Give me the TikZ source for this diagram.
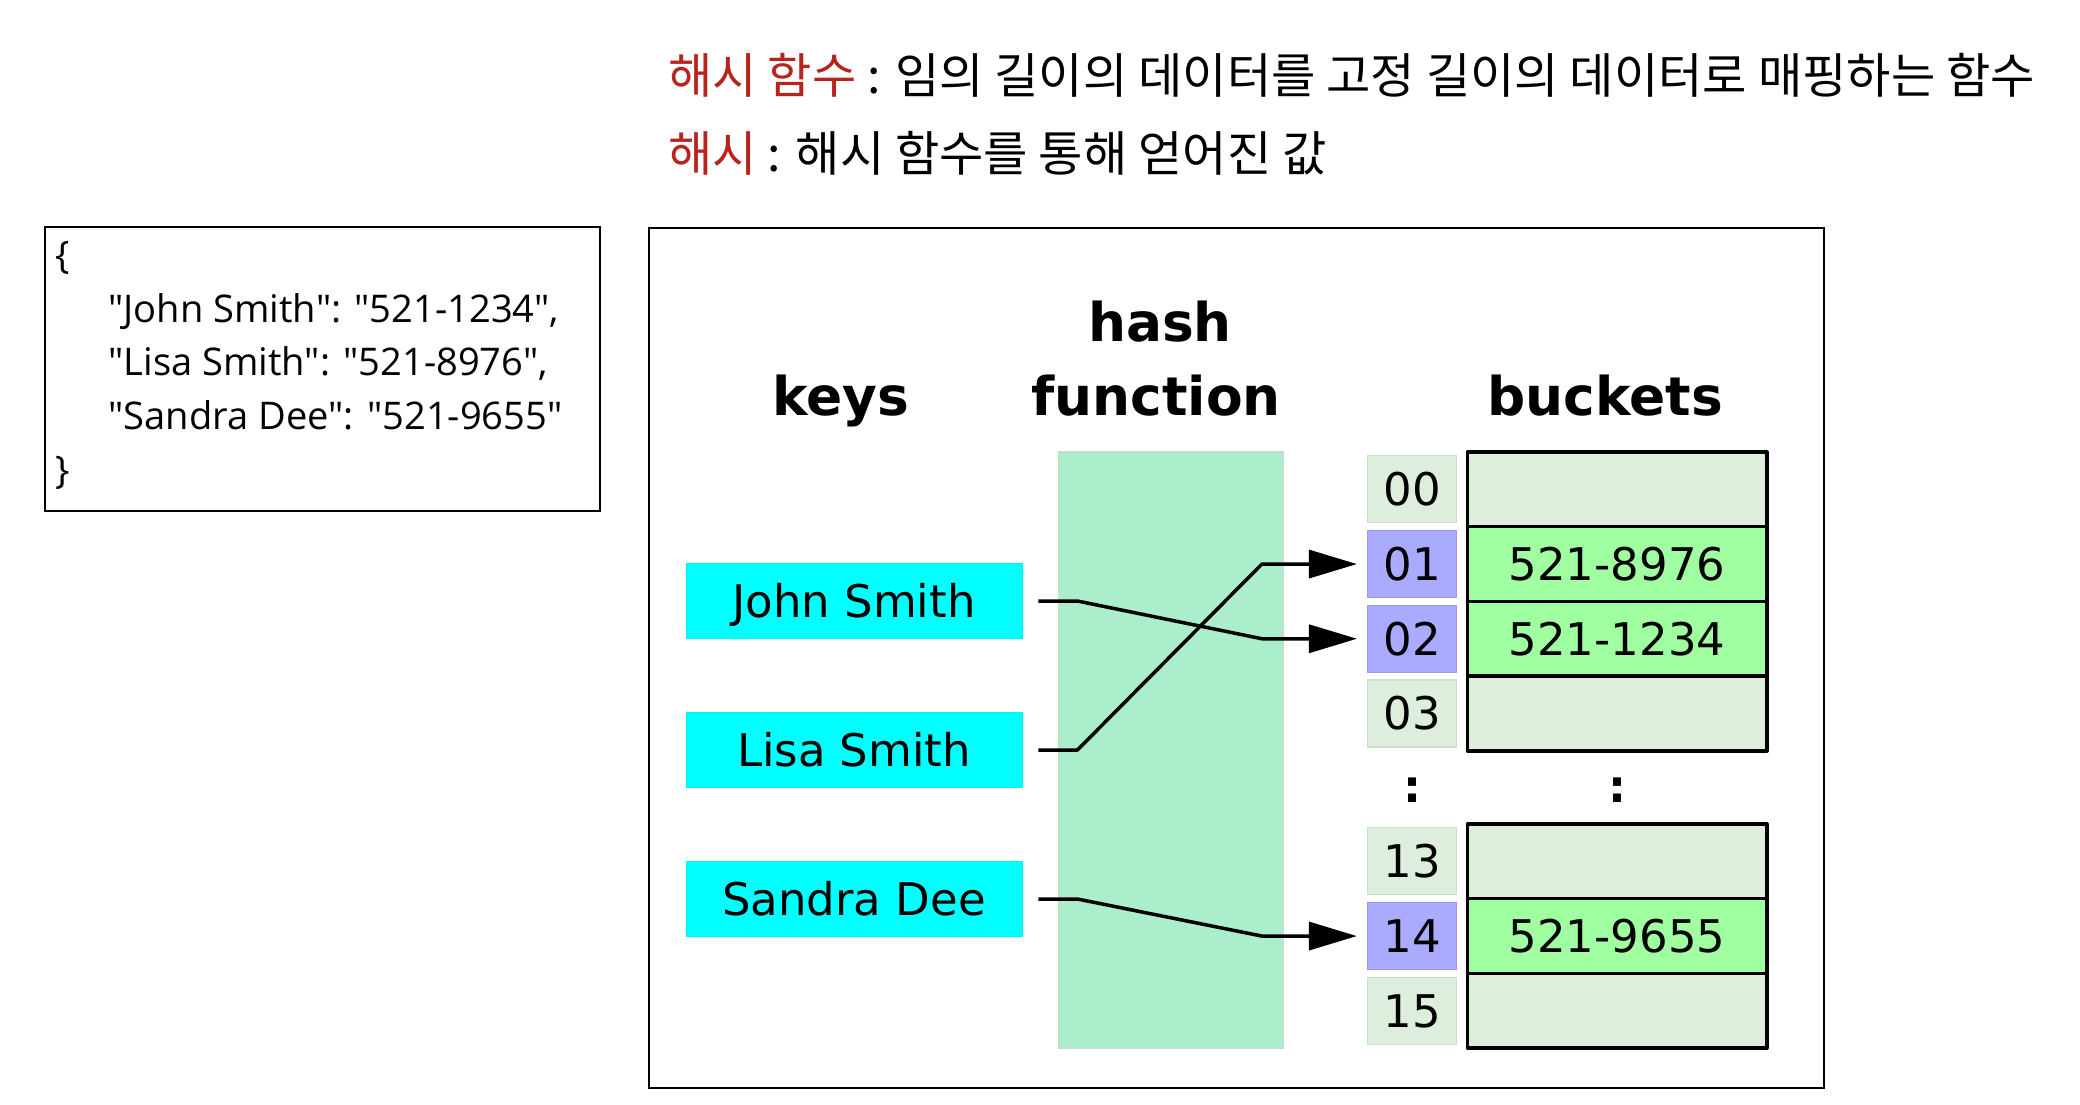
\documentclass[tikz,border=0pt]{standalone}
\usepackage{fontspec}
\usetikzlibrary{arrows.meta}
\newfontfamily\djv{DejaVu Sans}
\newfontfamily\krf{Noto Sans CJK KR}
\newfontfamily\jsf{Open Sans}
\definecolor{hashred}{RGB}{185,35,30}
\definecolor{keycyan}{RGB}{0,255,255}
\definecolor{hashgreen}{RGB}{171,238,204}
\definecolor{hashedge}{RGB}{190,225,205}
\definecolor{idxlight}{RGB}{221,238,221}
\definecolor{idxedge}{RGB}{205,222,205}
\definecolor{idxblue}{RGB}{170,170,255}
\definecolor{bucketgreen}{RGB}{160,255,160}
\tikzset{
  labelfont/.style={font=\djv\fontsize{22.5pt}{27pt}\selectfont},
  keybox/.style={labelfont, fill=keycyan, draw=keycyan!80!black!20!keycyan, line width=0.4pt,
    minimum width=168pt, minimum height=37.5pt, inner sep=0pt, text height=16.4pt, text depth=0pt},
  idxbox/.style={labelfont, fill=idxlight, draw=idxedge, line width=0.6pt,
    minimum width=44.5pt, minimum height=33.5pt, inner sep=0pt, text height=16.4pt, text depth=0pt},
  idxhit/.style={idxbox, fill=idxblue, draw=idxblue!90!black},
  bucketbox/.style={labelfont, fill=idxlight, draw=black, line width=1.75pt, line join=round,
    minimum width=149.75pt, minimum height=37.35pt, inner sep=0pt, text height=16.4pt, text depth=0pt},
  buckethit/.style={bucketbox, fill=bucketgreen},
  header/.style={font=\djv\bfseries\fontsize{26.7pt}{32pt}\selectfont, anchor=base, inner sep=0pt},
  dotsym/.style={font=\djv\bfseries\fontsize{22.5pt}{27pt}\selectfont, anchor=base, inner sep=0pt},
  jsonline/.style={font=\jsf\fontsize{19.05pt}{23pt}\selectfont, anchor=base west, inner sep=0pt},
  krline/.style={font=\krf\fontsize{24.1pt}{28pt}\selectfont, anchor=base west, inner sep=0pt},
  conn/.style={draw=black, line width=1.75pt, line join=round, -{Triangle[length=24pt,width=14pt]}}
}
\begin{document}
\begin{tikzpicture}[x=0.5pt,y=-0.5pt]
\useasboundingbox[fill=white] (0,0) rectangle (2080,1104);

% top definitions
\node[krline] (def1) at (668,93) {\textcolor{hashred}{해시 함수} : 임의 길이의 데이터를 고정 길이의 데이터로 매핑하는 함수};
\node[krline] (def2) at (668,171) {\textcolor{hashred}{해시} : 해시 함수를 통해 얻어진 값};

% JSON box
\node[draw=black, line width=1pt, minimum width=277.5pt, minimum height=142pt, inner sep=0pt] (jsonbox) at (322.5,369) {};
\node[jsonline] (j0) at (55,268.3) {\{};
\node[jsonline] (j1) at (108,322) {"John Smith": "521-1234",};
\node[jsonline] (j2) at (108,375.8) {"Lisa Smith": "521-8976",};
\node[jsonline] (j3) at (108,429.5) {"Sandra Dee": "521-9655"};
\node[jsonline] (j4) at (55,483.3) {\}};

% main frame
\node[draw=black, line width=1pt, minimum width=587.5pt, minimum height=430pt, inner sep=0pt] (frame) at (1236.5,658) {};

% headers
\node[header] (hhash) at (1160,341) {hash};
\node[header] (hfunc) at (1156,415) {function};
\node[header] (hkeys) at (841,415) {keys};
\node[header] (hbuck) at (1605,415) {buckets};

% hash function band
\node[fill=hashgreen, draw=hashedge, line width=0.6pt, minimum width=112pt, minimum height=298pt, inner sep=0pt] (hashfn) at (1171,750) {};

% keys
\node[keybox] (k1) at (854,601) {John Smith};
\node[keybox] (k2) at (854,750) {Lisa Smith};
\node[keybox] (k3) at (854,899) {Sandra Dee};

% index boxes
\node[idxbox] (i00) at (1412,489.35) {00};
\node[idxhit] (i01) at (1412,564.05) {01};
\node[idxhit] (i02) at (1412,638.75) {02};
\node[idxbox] (i03) at (1412,713.45) {03};
\node[idxbox] (i13) at (1412,861.35) {13};
\node[idxhit] (i14) at (1412,936.05) {14};
\node[idxbox] (i15) at (1412,1010.75) {15};

% buckets
\node[bucketbox] (b00) at (1617,489.35) {};
\node[buckethit] (b01) at (1617,564.05) {521-8976};
\node[buckethit] (b02) at (1617,638.75) {521-1234};
\node[bucketbox] (b03) at (1617,713.45) {};
\node[bucketbox] (b13) at (1617,861.35) {};
\node[buckethit] (b14) at (1617,936.05) {521-9655};
\node[bucketbox] (b15) at (1617,1010.75) {};

% dots
\node[dotsym] (d1) at (1412,802) {:};
\node[dotsym] (d2) at (1617,802) {:};

% connectors
\draw[conn] ([xshift=8pt]k1.east) -- ([xshift=27.5pt]k1.east) -- ([xshift=-52.5pt]i02.west) -- ([xshift=-5pt]i02.west);
\draw[conn] ([xshift=8pt]k2.east) -- ([xshift=27.5pt]k2.east) -- ([xshift=-52.5pt]i01.west) -- ([xshift=-5pt]i01.west);
\draw[conn] ([xshift=8pt]k3.east) -- ([xshift=27.5pt]k3.east) -- ([xshift=-52.5pt]i14.west) -- ([xshift=-5pt]i14.west);
\end{tikzpicture}
\end{document}
